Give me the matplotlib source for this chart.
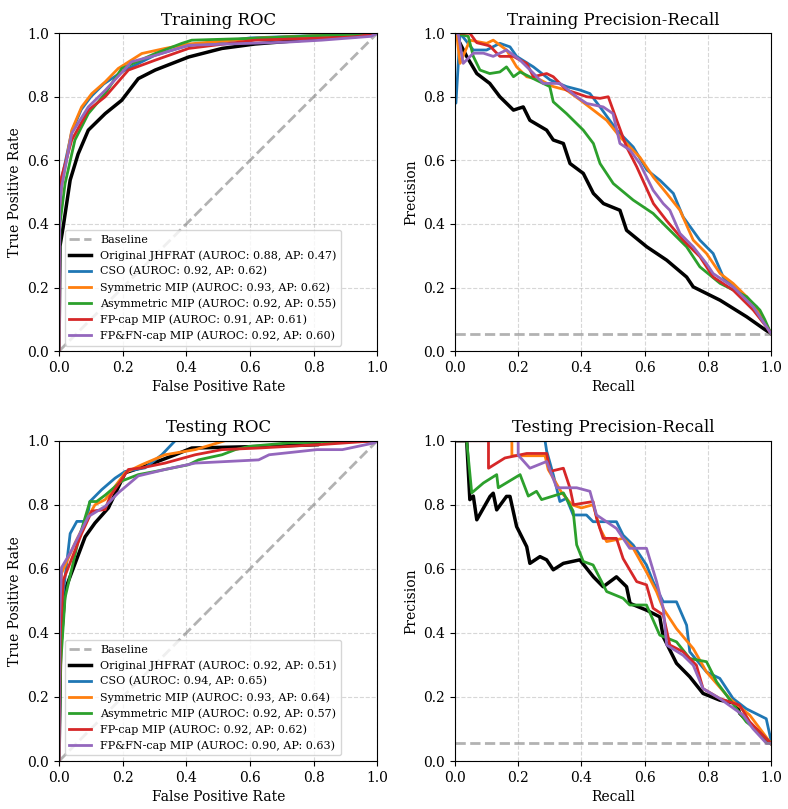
"""ROC and precision-recall curves, training vs testing (matplotlib, Agg)."""
import matplotlib

matplotlib.use("Agg")
import matplotlib.pyplot as plt  # noqa: E402

plt.rcParams["font.family"] = "DejaVu Serif"

models = ["Original JHFRAT", "CSO", "Symmetric MIP", "Asymmetric MIP", "FP-cap MIP", "FP&FN-cap MIP"]
colors = ["black", "tab:blue", "tab:orange", "tab:green", "tab:red", "tab:purple"]

train_auroc = [0.88, 0.92, 0.93, 0.92, 0.91, 0.92]
train_ap = [0.47, 0.62, 0.62, 0.55, 0.61, 0.60]
test_auroc = [0.92, 0.94, 0.93, 0.92, 0.92, 0.90]
test_ap = [0.51, 0.65, 0.64, 0.57, 0.62, 0.63]
pr_baseline = 0.055

# training ROC (fpr, tpr)
train_roc = {
    "Original JHFRAT": (
        [0, 0.003, 0.013, 0.035, 0.06, 0.092, 0.145, 0.197, 0.249, 0.302, 0.407, 0.512, 0.616, 0.679, 0.85, 1],
        [0, 0.33, 0.39, 0.538, 0.62, 0.695, 0.747, 0.789, 0.857, 0.884, 0.925, 0.952, 0.966, 0.971, 0.985, 1]),
    "CSO": (
        [0, 0.002, 0.01, 0.04, 0.07, 0.1, 0.14, 0.2, 0.3, 0.4, 0.6, 1],
        [0, 0.48, 0.55, 0.69, 0.76, 0.80, 0.84, 0.88, 0.93, 0.96, 0.985, 1]),
    "Symmetric MIP": (
        [0, 0.002, 0.008, 0.04, 0.071, 0.103, 0.145, 0.186, 0.26, 0.333, 0.407, 0.616, 1],
        [0, 0.45, 0.517, 0.695, 0.768, 0.81, 0.847, 0.889, 0.936, 0.952, 0.966, 0.984, 1]),
    "Asymmetric MIP": (
        [0, 0.003, 0.019, 0.05, 0.092, 0.145, 0.197, 0.302, 0.386, 0.417, 0.616, 1],
        [0, 0.4, 0.527, 0.664, 0.747, 0.81, 0.889, 0.936, 0.968, 0.978, 0.984, 1]),
    "FP-cap MIP": (
        [0, 0.002, 0.008, 0.04, 0.092, 0.145, 0.218, 0.302, 0.407, 0.616, 0.93, 1],
        [0, 0.45, 0.548, 0.664, 0.758, 0.80, 0.884, 0.915, 0.952, 0.978, 0.988, 1]),
    "FP&FN-cap MIP": (
        [0, 0.002, 0.008, 0.04, 0.092, 0.145, 0.228, 0.302, 0.407, 0.72, 0.825, 0.98, 1],
        [0, 0.45, 0.517, 0.685, 0.768, 0.82, 0.91, 0.93, 0.962, 0.972, 0.978, 0.99, 1]),
}

# testing ROC (fpr, tpr)
test_roc = {
    "Original JHFRAT": (
        [0, 0.005, 0.019, 0.082, 0.113, 0.155, 0.208, 0.27, 0.365, 0.417, 0.637, 0.815, 0.82, 1],
        [0, 0.35, 0.534, 0.70, 0.743, 0.79, 0.90, 0.92, 0.956, 0.977, 0.982, 0.9875, 1, 1]),
    "CSO": (
        [0, 0.003, 0.008, 0.035, 0.056, 0.087, 0.097, 0.134, 0.176, 0.208, 0.27, 0.323, 0.365, 1],
        [0, 0.35, 0.48, 0.71, 0.748, 0.748, 0.81, 0.847, 0.883, 0.904, 0.915, 0.956, 1, 1]),
    "Symmetric MIP": (
        [0, 0.003, 0.008, 0.05, 0.092, 0.113, 0.145, 0.208, 0.26, 0.333, 0.428, 0.522, 1],
        [0, 0.4, 0.586, 0.68, 0.763, 0.80, 0.816, 0.90, 0.925, 0.956, 0.972, 1, 1]),
    "Asymmetric MIP": (
        [0, 0.005, 0.019, 0.061, 0.097, 0.118, 0.145, 0.197, 0.249, 0.302, 0.407, 0.438, 0.512, 0.554, 0.596, 0.72, 1],
        [0, 0.3, 0.51, 0.69, 0.81, 0.81, 0.83, 0.874, 0.894, 0.904, 0.925, 0.94, 0.956, 0.972, 0.982, 0.993, 1]),
    "FP-cap MIP": (
        [0, 0.004, 0.0136, 0.071, 0.103, 0.145, 0.16, 0.218, 0.26, 0.333, 0.428, 0.512, 0.626, 0.825, 1],
        [0, 0.4, 0.565, 0.71, 0.78, 0.785, 0.825, 0.91, 0.915, 0.93, 0.956, 0.972, 0.977, 0.988, 1]),
    "FP&FN-cap MIP": (
        [0, 0.002, 0.008, 0.035, 0.092, 0.145, 0.186, 0.249, 0.333, 0.428, 0.627, 0.66, 0.81, 0.89, 0.99, 1],
        [0, 0.45, 0.604, 0.649, 0.763, 0.795, 0.837, 0.89, 0.91, 0.93, 0.94, 0.956, 0.972, 0.972, 0.993, 1]),
}

# training PR (recall, precision)
train_pr = {
    "Original JHFRAT": (
        [0, 0.02, 0.037, 0.069, 0.11, 0.142, 0.185, 0.216, 0.237, 0.29, 0.311, 0.343, 0.364, 0.406, 0.438,
         0.47, 0.522, 0.543, 0.607, 0.67, 0.733, 0.754, 0.839, 0.923, 0.976, 1],
        [1, 0.96, 0.927, 0.873, 0.842, 0.80, 0.758, 0.768, 0.726, 0.695, 0.664, 0.653, 0.59, 0.559, 0.496,
         0.464, 0.443, 0.38, 0.328, 0.286, 0.233, 0.202, 0.16, 0.108, 0.071, 0.055]),
    "CSO": (
        [0, 0.003, 0.016, 0.058, 0.1, 0.142, 0.174, 0.195, 0.248, 0.301, 0.353, 0.396, 0.427, 0.459, 0.512,
         0.564, 0.607, 0.649, 0.691, 0.722, 0.775, 0.817, 0.849, 0.891, 0.955, 1],
        [0.78, 0.78, 1.0, 0.947, 0.947, 0.968, 0.957, 0.927, 0.894, 0.853, 0.832, 0.821, 0.81, 0.768, 0.695,
         0.642, 0.57, 0.537, 0.496, 0.422, 0.349, 0.307, 0.233, 0.192, 0.139, 0.055]),
    "Symmetric MIP": (
        [0, 0.005, 0.016, 0.047, 0.1, 0.121, 0.163, 0.195, 0.227, 0.27, 0.311, 0.353, 0.396, 0.438, 0.48,
         0.522, 0.585, 0.628, 0.67, 0.712, 0.754, 0.796, 0.839, 0.88, 0.923, 0.965, 1],
        [1, 1, 0.905, 0.978, 0.968, 0.978, 0.947, 0.894, 0.863, 0.853, 0.832, 0.821, 0.79, 0.758, 0.726,
         0.674, 0.61, 0.547, 0.496, 0.443, 0.349, 0.307, 0.244, 0.213, 0.171, 0.118, 0.055]),
    "Asymmetric MIP": (
        [0, 0.042, 0.058, 0.079, 0.11, 0.142, 0.163, 0.185, 0.206, 0.258, 0.3, 0.311, 0.353, 0.406, 0.438,
         0.459, 0.501, 0.564, 0.627, 0.67, 0.733, 0.775, 0.839, 0.923, 0.965, 0.98, 1],
        [1, 0.99, 0.927, 0.884, 0.873, 0.878, 0.894, 0.863, 0.878, 0.852, 0.832, 0.784, 0.747, 0.695, 0.653,
         0.59, 0.527, 0.475, 0.433, 0.39, 0.328, 0.265, 0.213, 0.171, 0.129, 0.10, 0.055]),
    "FP-cap MIP": (
        [0, 0.047, 0.069, 0.11, 0.142, 0.185, 0.206, 0.227, 0.248, 0.29, 0.311, 0.353, 0.385, 0.417, 0.459,
         0.485, 0.512, 0.543, 0.575, 0.628, 0.67, 0.722, 0.775, 0.817, 0.88, 0.944, 0.986, 1],
        [1, 1.0, 0.97, 0.96, 0.927, 0.927, 0.915, 0.905, 0.863, 0.873, 0.863, 0.821, 0.811, 0.80, 0.795,
         0.80, 0.726, 0.642, 0.58, 0.464, 0.41, 0.349, 0.297, 0.233, 0.192, 0.129, 0.076, 0.055]),
    "FP&FN-cap MIP": (
        [0, 0.01, 0.026, 0.058, 0.09, 0.121, 0.163, 0.205, 0.248, 0.279, 0.332, 0.385, 0.417, 0.469, 0.5,
         0.522, 0.554, 0.585, 0.627, 0.659, 0.68, 0.712, 0.754, 0.796, 0.817, 0.88, 0.944, 1],
        [1, 1, 0.905, 0.937, 0.937, 0.927, 0.947, 0.916, 0.874, 0.842, 0.842, 0.80, 0.779, 0.768, 0.747,
         0.653, 0.632, 0.59, 0.506, 0.464, 0.443, 0.37, 0.328, 0.275, 0.244, 0.202, 0.139, 0.055]),
}

# testing PR (recall, precision)
test_pr = {
    "Original JHFRAT": (
        [0, 0.037, 0.047, 0.058, 0.069, 0.111, 0.121, 0.132, 0.163, 0.174, 0.195, 0.227, 0.237, 0.269, 0.29,
         0.311, 0.343, 0.395, 0.438, 0.469, 0.511, 0.543, 0.554, 0.606, 0.648, 0.659, 0.701, 0.743, 0.785,
         0.838, 0.891, 0.901, 0.943, 1],
        [1, 1, 0.816, 0.827, 0.753, 0.826, 0.836, 0.784, 0.826, 0.826, 0.732, 0.669, 0.617, 0.638, 0.628,
         0.597, 0.617, 0.628, 0.575, 0.544, 0.575, 0.544, 0.492, 0.471, 0.45, 0.388, 0.305, 0.263, 0.211,
         0.19, 0.18, 0.149, 0.107, 0.055]),
    "CSO": (
        [0, 0.285, 0.29, 0.311, 0.332, 0.353, 0.374, 0.416, 0.437, 0.48, 0.511, 0.532, 0.564, 0.606, 0.627,
         0.659, 0.701, 0.733, 0.743, 0.796, 0.838, 0.88, 0.922, 0.985, 1],
        [1, 1, 0.968, 0.894, 0.81, 0.82, 0.768, 0.768, 0.747, 0.747, 0.747, 0.705, 0.674, 0.612, 0.56,
         0.497, 0.497, 0.424, 0.341, 0.278, 0.258, 0.195, 0.163, 0.132, 0.065]),
    "Symmetric MIP": (
        [0, 0.18, 0.18, 0.285, 0.295, 0.338, 0.37, 0.4, 0.437, 0.459, 0.48, 0.532, 0.564, 0.606, 0.638,
         0.659, 0.701, 0.754, 0.796, 0.869, 0.933, 1],
        [1, 1, 0.953, 0.953, 0.91, 0.837, 0.80, 0.79, 0.80, 0.726, 0.685, 0.695, 0.664, 0.59, 0.528,
         0.476, 0.413, 0.351, 0.278, 0.195, 0.143, 0.055]),
    "Asymmetric MIP": (
        [0, 0.037, 0.053, 0.09, 0.132, 0.137, 0.206, 0.232, 0.258, 0.274, 0.343, 0.374, 0.385, 0.406, 0.437,
         0.48, 0.532, 0.553, 0.606, 0.648, 0.701, 0.743, 0.796, 0.828, 0.859, 0.922, 0.964, 1],
        [1, 1, 0.837, 0.868, 0.894, 0.853, 0.894, 0.827, 0.842, 0.816, 0.837, 0.78, 0.675, 0.623, 0.612,
         0.529, 0.508, 0.487, 0.487, 0.393, 0.372, 0.32, 0.31, 0.247, 0.206, 0.122, 0.09, 0.055]),
    "FP-cap MIP": (
        [0, 0.106, 0.106, 0.158, 0.227, 0.29, 0.301, 0.343, 0.364, 0.375, 0.437, 0.448, 0.469, 0.511, 0.532,
         0.575, 0.606, 0.627, 0.659, 0.68, 0.722, 0.764, 0.785, 0.838, 0.901, 0.933, 1],
        [1, 1, 0.914, 0.946, 0.96, 0.96, 0.904, 0.914, 0.852, 0.80, 0.81, 0.758, 0.695, 0.695, 0.632,
         0.56, 0.55, 0.477, 0.456, 0.362, 0.341, 0.299, 0.226, 0.195, 0.174, 0.122, 0.055]),
    "FP&FN-cap MIP": (
        [0, 0.2, 0.2, 0.237, 0.29, 0.322, 0.385, 0.427, 0.448, 0.511, 0.553, 0.606, 0.638, 0.659, 0.67,
         0.722, 0.754, 0.785, 0.838, 0.912, 0.943, 0.986, 1],
        [1, 1, 0.955, 0.914, 0.935, 0.853, 0.853, 0.842, 0.768, 0.726, 0.664, 0.664, 0.56, 0.477, 0.362,
         0.33, 0.299, 0.226, 0.195, 0.143, 0.101, 0.055, 0.055]),
}

fig = plt.figure(figsize=(7.88, 8.09), dpi=100)
boxes = {
    "train_roc": [0.0749, 0.566, 0.404, 0.393],
    "train_pr": [0.5774, 0.566, 0.401, 0.393],
    "test_roc": [0.0749, 0.0593, 0.404, 0.396],
    "test_pr": [0.5774, 0.0593, 0.401, 0.396],
}


def style(ax, title, xlabel, ylabel):
    ax.set_xlim(0, 1)
    ax.set_ylim(0, 1)
    ax.set_title(title, fontsize=12)
    ax.set_xlabel(xlabel, fontsize=10)
    ax.set_ylabel(ylabel, fontsize=10)
    ax.grid(True, linestyle="--", alpha=0.5)
    ax.tick_params(labelsize=10)


def roc_panel(ax, curves, auroc, ap, title):
    ax.plot([0, 1], [0, 1], "--", color="gray", alpha=0.6, lw=2, label="Baseline")
    for i, name in enumerate(models):
        fpr, tpr = curves[name]
        ax.plot(fpr, tpr, color=colors[i], lw=2.5 if i == 0 else 2,
                label=f"{name} (AUROC: {auroc[i]:.2f}, AP: {ap[i]:.2f})")
    style(ax, title, "False Positive Rate", "True Positive Rate")
    ax.legend(loc="lower left", fontsize=8)


def pr_panel(ax, curves, title):
    for i, name in enumerate(models):
        rec, prec = curves[name]
        ax.plot(rec, prec, color=colors[i], lw=2.5 if i == 0 else 2)
    ax.axhline(pr_baseline, linestyle="--", color="gray", alpha=0.6, lw=2)
    style(ax, title, "Recall", "Precision")


roc_panel(fig.add_axes(boxes["train_roc"]), train_roc, train_auroc, train_ap, "Training ROC")
pr_panel(fig.add_axes(boxes["train_pr"]), train_pr, "Training Precision-Recall")
roc_panel(fig.add_axes(boxes["test_roc"]), test_roc, test_auroc, test_ap, "Testing ROC")
pr_panel(fig.add_axes(boxes["test_pr"]), test_pr, "Testing Precision-Recall")

fig.savefig("out.png", dpi=100)
plt.close(fig)
